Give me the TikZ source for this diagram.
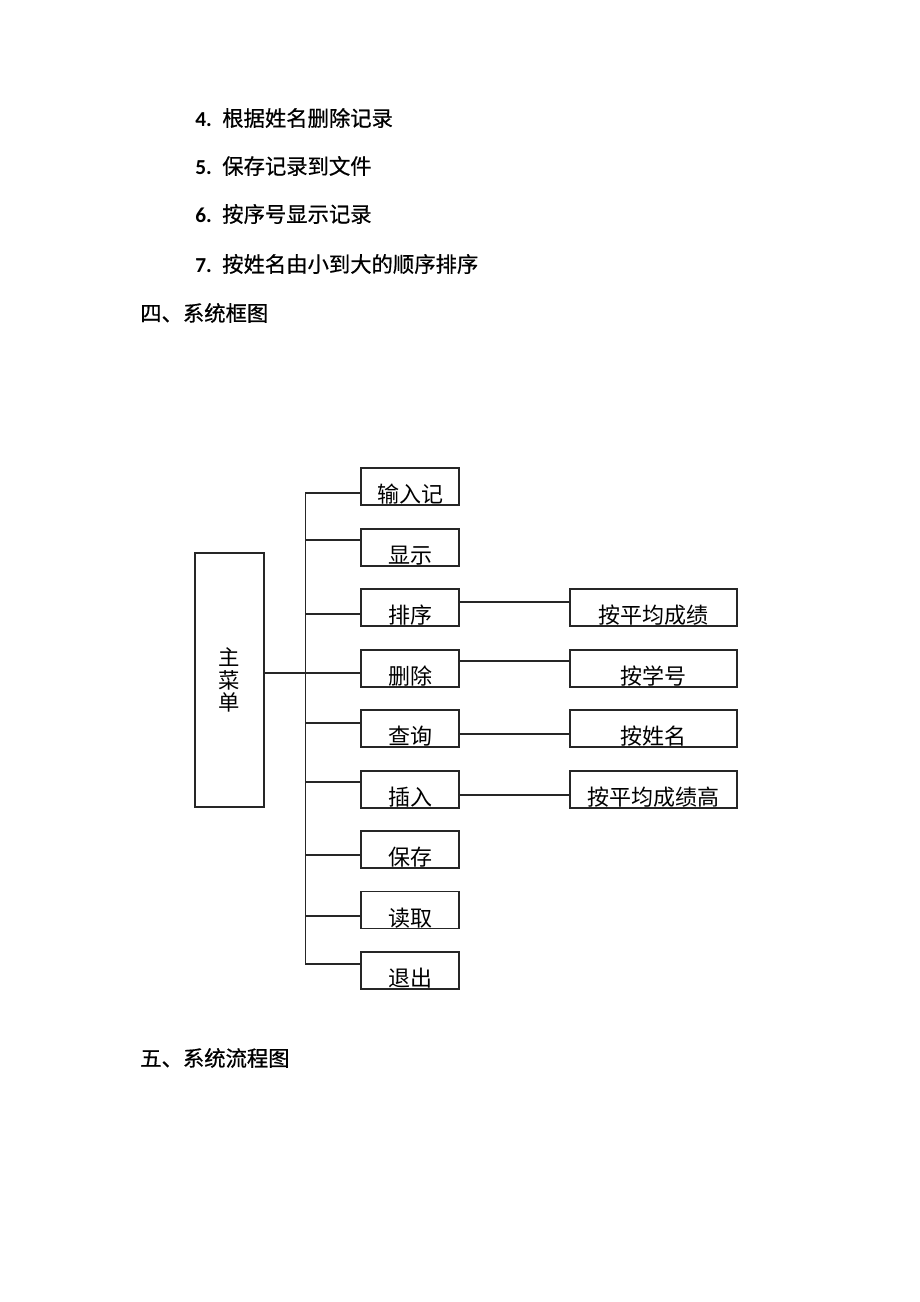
\documentclass[tikz,border=0pt]{standalone}
\usepackage{fontspec}
\setmainfont{Carlito}
\newfontfamily\cjk{Noto Sans CJK SC}
\newfontfamily\cjkhead[FakeBold=0.6]{Noto Sans CJK SC}
\usetikzlibrary{calc}

\begin{document}
\begin{tikzpicture}[x=0.75pt,y=-0.75pt]
		\tikzset{menubox/.style={draw = black!85, line width = 0.9pt, inner sep = 0pt, minimum width = 73.5pt, text height = 25.9pt, text depth = 1.9pt, font = \cjk\fontsize{16.5pt}{18pt}\selectfont}}
		\tikzset{subbox/.style={menubox, minimum width = 125.25pt}}
		\tikzset{mainbox/.style={draw = black!85, line width = 0.9pt, inner sep = 0pt, minimum width = 51.75pt, minimum height = 190.5pt, align = center, font = \cjk\fontsize{16pt}{16.9pt}\selectfont}}
		\tikzset{link/.style={draw = black!85, line width = 0.9pt}}
		\tikzset{heading/.style={anchor = west, inner sep = 0pt, font = \fontsize{16pt}{18pt}\selectfont}}
		\useasboundingbox[fill = white] (0, 0) rectangle (920, 1302);
		%text
		\node[heading] (l4) at (195, 118) {\makebox[20.25pt][l]{\textbf{4.}}{\cjkhead 根据姓名删除记录}};
		\node[heading] (l5) at (195, 166) {\makebox[20.25pt][l]{\textbf{5.}}{\cjkhead 保存记录到文件}};
		\node[heading] (l6) at (195, 214) {\makebox[20.25pt][l]{\textbf{6.}}{\cjkhead 按序号显示记录}};
		\node[heading] (l7) at (195, 264) {\makebox[20.25pt][l]{\textbf{7.}}{\cjkhead 按姓名由小到大的顺序排序}};
		\node[heading] (sec4) at (140, 313) {\cjkhead 四、系统框图};
		\node[heading] (sec5) at (140, 1058) {\cjkhead 五、系统流程图};
		%boxes
		\node[mainbox] (main) at (229.5, 680) {主\\菜\\单};
		\foreach \n/\y/\t in {1/486.5/输入记, 2/547.5/显示, 3/607.5/排序, 4/668.5/删除, 5/728.5/查询, 6/789.5/插入, 7/849.5/保存, 8/910/读取, 9/970.5/退出}
			\node[menubox] (b\n) at (410, \y) {\t};
		\foreach \n/\t in {3/按平均成绩, 4/按学号, 5/按姓名, 6/按平均成绩高}
			\node[subbox] (r\n) at ($(b\n) + (243.5, 0)$) {\t};
		%lines
		\foreach \n/\o in {1/6.5, 2/-7.5, 3/6.5, 4/4.5, 5/-5.5, 6/-7.5, 7/5.5, 8/6, 9/-6.5} {
			\coordinate (j\n) at ($(b\n.west) + (-55, \o)$);
			\draw[link] (j\n) -- ($(b\n.west) + (0, \o)$);
		}
		\draw[link] (j1) -- (j9);
		\draw[link] (main.east |- j4) -- (j4);
		\foreach \n/\o in {3/-5.5, 4/-7.5, 5/5.5, 6/5.5}
			\draw[link] ($(b\n.east) + (0, \o)$) -- ($(r\n.west) + (0, \o)$);
\end{tikzpicture}
\end{document}
